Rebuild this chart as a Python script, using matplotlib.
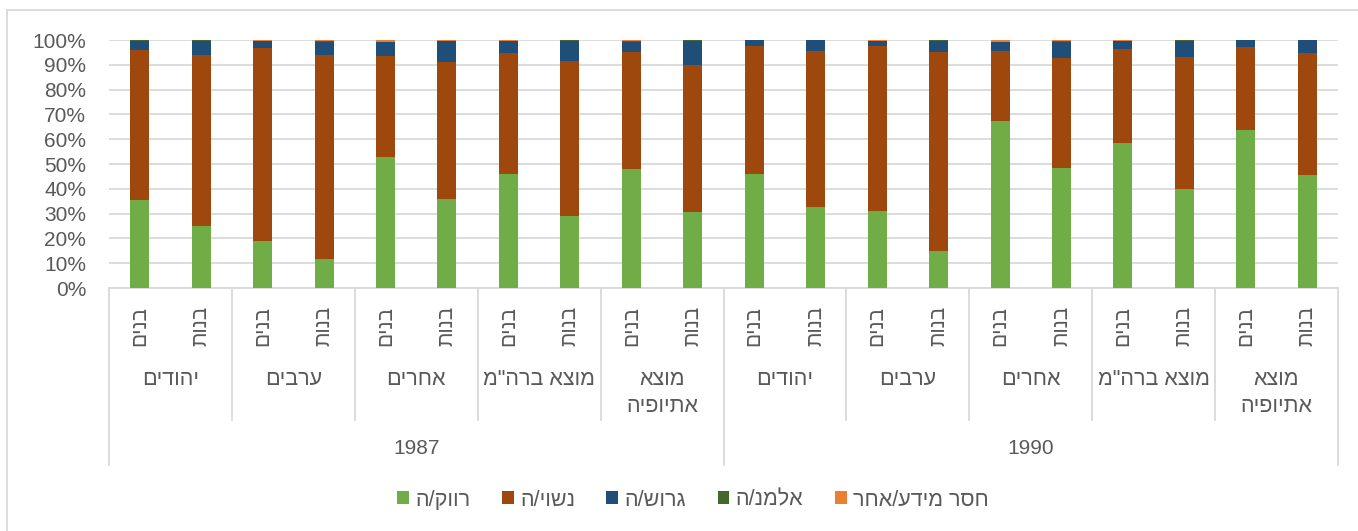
import numpy as np
import matplotlib
matplotlib.use("Agg")
import matplotlib.pyplot as plt
import matplotlib.transforms as mtransforms
from matplotlib.patches import Rectangle
from matplotlib.ticker import PercentFormatter

plt.rcParams['font.family'] = ['Liberation Sans', 'DejaVu Sans']


def heb(s):
    # matplotlib has no bidi, so flip each line for display
    return "\n".join(line[::-1] for line in s.split("\n"))


# categories
years = ["1987", "1990"]
groups = ["יהודים", "ערבים", "אחרים", 'מוצא ברה"מ', "מוצא\nאתיופיה"]
genders = ["בנים", "בנות"]

# series values (% of each bar), order: year -> group -> gender
single = [35.6, 24.9, 18.9, 11.5, 52.8, 35.7, 46.1, 29.0, 47.8, 30.5,
          45.8, 32.5, 30.9, 15.1, 67.3, 48.4, 58.4, 39.8, 63.9, 45.7]
married = [60.4, 69.2, 77.7, 82.6, 40.9, 55.3, 48.5, 62.5, 47.5, 59.5,
           51.6, 63.2, 66.5, 80.2, 28.4, 44.2, 38.1, 53.2, 33.1, 48.9]
divorced = [3.6, 5.5, 3.0, 5.2, 5.4, 8.6, 5.0, 8.1, 4.0, 9.7,
            2.4, 4.2, 2.2, 4.3, 3.4, 6.7, 3.1, 6.7, 2.9, 5.3]
widowed = [0.3, 0.3, 0.1, 0.3, 0.1, 0.1, 0.1, 0.3, 0.1, 0.1,
           0.1, 0.1, 0.1, 0.2, 0.1, 0.1, 0.1, 0.1, 0.1, 0.1]
other = [0.1, 0.1, 0.3, 0.4, 0.8, 0.3, 0.3, 0.1, 0.6, 0.2,
         0.1, 0.0, 0.3, 0.2, 0.8, 0.6, 0.3, 0.2, 0.0, 0.0]

series_names = ["רווק/ה", "נשוי/ה", "גרוש/ה", "אלמנ/ה", "חסר מידע/אחר"]
colors = ["#70AD47", "#9E480E", "#1F4E79", "#43682B", "#ED7D31"]

grey = "#595959"
line_c = "#D9D9D9"

fig = plt.figure(figsize=(13.58, 5.31), dpi=100)
W, H = 1358, 531
ax = fig.add_axes([109 / W, 1 - 288 / H, (1338 - 109) / W, (288 - 40) / H])

x = np.arange(len(single))
bottom = np.zeros(len(x))
for name, vals, c in zip(series_names, [single, married, divorced, widowed, other], colors):
    ax.bar(x, vals, 0.31, bottom=bottom, color=c, label=heb(name), zorder=3)
    bottom += np.array(vals)

ax.set_xlim(-0.5, len(x) - 0.5)
ax.set_ylim(0, 100)
ax.set_yticks(np.arange(0, 101, 10))
ax.yaxis.set_major_formatter(PercentFormatter(decimals=0))
ax.grid(axis="y", color=line_c, lw=1.3, zorder=0)
for s in ["top", "right", "left"]:
    ax.spines[s].set_visible(False)
ax.spines["bottom"].set_color(line_c)
ax.spines["bottom"].set_linewidth(1.3)
ax.tick_params(axis="y", length=0, labelsize=15, labelcolor=grey, pad=16.5)

# gender tick labels, rotated
ax.set_xticks(x)
ax.set_xticklabels([heb(g) for y in years for gr in groups for g in genders],
                   rotation=90, va="top", ha="center")
ax.tick_params(axis="x", length=0, labelsize=15, labelcolor=grey, pad=13)

trans = mtransforms.blended_transform_factory(ax.transData, fig.transFigure)
y0 = 1 - 288 / H
y_grp = 1 - 420 / H
y_year = 1 - 465 / H

# separators
n_per_year = len(groups) * len(genders)
for b in range(len(years) * len(groups) + 1):
    xb = b * len(genders) - 0.5
    is_year = (b * len(genders)) % n_per_year == 0
    ax.plot([xb, xb], [y0, y_year if is_year else y_grp], transform=trans,
            color=line_c, lw=1.3, clip_on=False)

# group labels and year labels
for yi, yr in enumerate(years):
    for gi, gr in enumerate(groups):
        xc = yi * n_per_year + gi * len(genders) + 0.5
        ax.text(xc, 1 - 369 / H, heb(gr), transform=trans, ha="center", va="top",
                fontsize=15.5, color=grey, multialignment="center", linespacing=1.35)
    xc = yi * n_per_year + (n_per_year - 1) / 2
    ax.text(xc, 1 - 449 / H, yr, transform=trans, ha="center", va="center",
            fontsize=15, color=grey)

leg = fig.legend(loc="center", bbox_to_anchor=(693 / W, 1 - 500 / H), ncol=5,
                 frameon=False, fontsize=15.5, handlelength=0.55, handleheight=0.55,
                 handletextpad=0.3, columnspacing=1.45, labelcolor=grey)

# chart border
fig.add_artist(Rectangle((7 / W, -0.1), 1.2, 1 - 10 / H + 0.1, transform=fig.transFigure,
                         fill=False, edgecolor=line_c, lw=1.3))

fig.savefig("out.png", dpi=100)
